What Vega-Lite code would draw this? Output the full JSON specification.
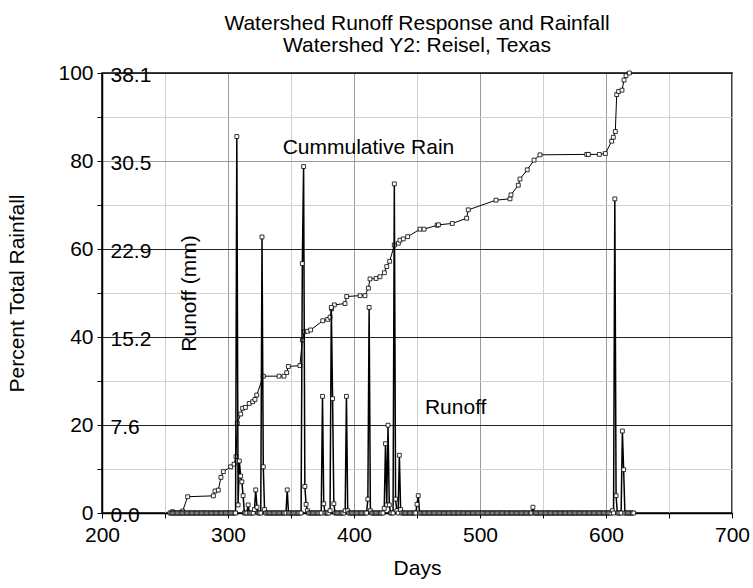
{
"$schema": "https://vega.github.io/schema/vega-lite/v6.json",
"width": 630, "height": 440,
"autosize": "none",
"padding": {"left": 102, "top": 73, "right": 21, "bottom": 75},
"background": "white",
"config": {"font": "Liberation Sans", "view": {"stroke": "black", "strokeWidth": 1.5}},
"title": {"text": ["Watershed Runoff Response and Rainfall", "Watershed Y2: Reisel, Texas"], "fontSize": 21, "fontWeight": "normal", "anchor": "middle", "frame": "group", "offset": 6, "lineHeight": 22, "color": "black"},
"datasets": {
"rain": [{"d":256,"p":0.3},{"d":264,"p":0.45},{"d":268,"p":3.7},{"d":288.4,"p":3.9},{"d":289.7,"p":5.0},{"d":292.3,"p":5.2},{"d":294.4,"p":8.1},{"d":296.3,"p":9.4},{"d":302.1,"p":10.5},{"d":304.8,"p":11.1},{"d":306.3,"p":12.8},{"d":307.4,"p":20.4},{"d":310.1,"p":22.5},{"d":311.6,"p":23.8},{"d":313.8,"p":24.0},{"d":316.9,"p":24.9},{"d":319.6,"p":25.3},{"d":321.4,"p":25.8},{"d":322.8,"p":26.8},{"d":328,"p":31.1},{"d":340.5,"p":31.1},{"d":344.4,"p":31.1},{"d":346.6,"p":31.9},{"d":347.9,"p":33.3},{"d":357.1,"p":33.5},{"d":359,"p":39.3},{"d":360.6,"p":41.2},{"d":363.2,"p":41.3},{"d":365.6,"p":41.6},{"d":375.2,"p":43.7},{"d":379.1,"p":44.0},{"d":381,"p":44.5},{"d":382.3,"p":46.4},{"d":384.4,"p":47.3},{"d":392.9,"p":47.6},{"d":394.2,"p":49.2},{"d":404.8,"p":49.4},{"d":408.7,"p":49.4},{"d":411.4,"p":51.1},{"d":412.7,"p":53.2},{"d":417.5,"p":53.3},{"d":420.6,"p":53.7},{"d":424.1,"p":54.6},{"d":426,"p":56.0},{"d":428.3,"p":57.2},{"d":432,"p":60.9},{"d":435.2,"p":61.3},{"d":436.5,"p":62.0},{"d":439.1,"p":62.3},{"d":442.6,"p":62.8},{"d":452.4,"p":64.5},{"d":455.6,"p":64.5},{"d":466,"p":65.4},{"d":467,"p":65.5},{"d":478,"p":65.8},{"d":489.4,"p":67.0},{"d":490.7,"p":68.9},{"d":512.7,"p":71.1},{"d":523.8,"p":71.4},{"d":524.6,"p":72.3},{"d":530.4,"p":74.5},{"d":531.7,"p":75.9},{"d":537.5,"p":78.0},{"d":542.9,"p":80.2},{"d":547.6,"p":81.4},{"d":584.7,"p":81.5},{"d":586,"p":81.5},{"d":594.7,"p":81.5},{"d":599.5,"p":81.7},{"d":604.5,"p":84.5},{"d":605.8,"p":85.4},{"d":607.4,"p":86.7},{"d":608.5,"p":95.1},{"d":610,"p":95.8},{"d":612.7,"p":96.1},{"d":614.3,"p":98.4},{"d":615.9,"p":99.4},{"d":618.5,"p":100}],
"labels": [{"t":"Cummulative Rain","d":343.4,"p":81.5},{"t":"Runoff","d":456.3,"p":22.4}],
"runoff": [
{"d":254,"r":0},{"d":255,"r":0},{"d":256,"r":0},{"d":257,"r":0},{"d":258,"r":0},{"d":259,"r":0},
{"d":260,"r":0},{"d":261,"r":0},{"d":262,"r":0},{"d":263,"r":0},{"d":264,"r":0},{"d":265,"r":0},{"d":266,"r":0},{"d":267,"r":0},{"d":268,"r":0},{"d":269,"r":0},
{"d":270,"r":0},{"d":271,"r":0},{"d":272,"r":0},{"d":273,"r":0},{"d":274,"r":0},{"d":275,"r":0},{"d":276,"r":0},{"d":277,"r":0},{"d":278,"r":0},{"d":279,"r":0},
{"d":280,"r":0},{"d":281,"r":0},{"d":282,"r":0},{"d":283,"r":0},{"d":284,"r":0},{"d":285,"r":0},{"d":286,"r":0},{"d":287,"r":0},{"d":288,"r":0},{"d":289,"r":0},
{"d":290,"r":0},{"d":291,"r":0},{"d":292,"r":0},{"d":293,"r":0},{"d":294,"r":0},{"d":295,"r":0},{"d":296,"r":0},{"d":297,"r":0},{"d":298,"r":0},{"d":299,"r":0},
{"d":300,"r":0},{"d":301,"r":0},{"d":302,"r":0},{"d":303,"r":0},{"d":304,"r":0},{"d":305,"r":0},{"d":306,"r":0},{"d":307,"r":32.6},{"d":308,"r":0.7},{"d":309,"r":4.5},
{"d":310,"r":3.2},{"d":311,"r":2.7},{"d":312,"r":1.5},{"d":313,"r":0},{"d":314,"r":0},{"d":315,"r":0},{"d":316,"r":0.7},{"d":317,"r":0},{"d":318,"r":0},{"d":319,"r":0},
{"d":320,"r":0},{"d":321,"r":0.3},{"d":322,"r":2.0},{"d":323,"r":0.5},{"d":324,"r":0},{"d":325,"r":0},{"d":326,"r":0},{"d":327,"r":23.9},{"d":328,"r":4.0},{"d":329,"r":0.3},
{"d":330,"r":0},{"d":331,"r":0},{"d":332,"r":0},{"d":333,"r":0},{"d":334,"r":0},{"d":335,"r":0},{"d":336,"r":0},{"d":337,"r":0},{"d":338,"r":0},{"d":339,"r":0},
{"d":340,"r":0},{"d":341,"r":0},{"d":342,"r":0},{"d":343,"r":0},{"d":344,"r":0},{"d":345,"r":0},{"d":346,"r":0},{"d":347,"r":2.0},{"d":348,"r":0},{"d":349,"r":0},
{"d":350,"r":0},{"d":351,"r":0},{"d":352,"r":0},{"d":353,"r":0},{"d":354,"r":0},{"d":355,"r":0},{"d":356,"r":0},{"d":357,"r":0},{"d":358,"r":0},{"d":359,"r":21.6},
{"d":360,"r":30.0},{"d":361,"r":2.3},{"d":362,"r":0.75},{"d":363,"r":0.2},{"d":364,"r":0},{"d":365,"r":0},{"d":366,"r":0},{"d":367,"r":0},{"d":368,"r":0},{"d":369,"r":0},
{"d":370,"r":0},{"d":371,"r":0},{"d":372,"r":0},{"d":373,"r":0},{"d":374,"r":0},{"d":375,"r":10.1},{"d":376,"r":0.8},{"d":377,"r":0},{"d":378,"r":0},{"d":379,"r":0},
{"d":380,"r":0},{"d":381,"r":0.2},{"d":382,"r":17.8},{"d":383,"r":9.9},{"d":384,"r":0.8},{"d":385,"r":0},{"d":386,"r":0},{"d":387,"r":0},{"d":388,"r":0},{"d":389,"r":0},
{"d":390,"r":0},{"d":391,"r":0},{"d":392,"r":0},{"d":393,"r":0.2},{"d":394,"r":10.1},{"d":395,"r":0.2},{"d":396,"r":0},{"d":397,"r":0},{"d":398,"r":0},{"d":399,"r":0},
{"d":400,"r":0},{"d":401,"r":0},{"d":402,"r":0},{"d":403,"r":0},{"d":404,"r":0},{"d":405,"r":0},{"d":406,"r":0},{"d":407,"r":0},{"d":408,"r":0},{"d":409,"r":0},
{"d":410,"r":0},{"d":411,"r":1.2},{"d":412,"r":17.8},{"d":413,"r":0.2},{"d":414,"r":0},{"d":415,"r":0},{"d":416,"r":0},{"d":417,"r":0},{"d":418,"r":0},{"d":419,"r":0},
{"d":420,"r":0},{"d":421,"r":0},{"d":422,"r":0},{"d":423,"r":0},{"d":424,"r":0.4},{"d":425,"r":6.0},{"d":426,"r":0.7},{"d":427,"r":7.6},{"d":428,"r":0.7},{"d":429,"r":0},
{"d":430,"r":0},{"d":431,"r":0},{"d":432,"r":28.5},{"d":433,"r":1.2},{"d":434,"r":0.2},{"d":435,"r":0},{"d":436,"r":5.0},{"d":437,"r":0.3},{"d":438,"r":0},{"d":439,"r":0},
{"d":440,"r":0},{"d":441,"r":0},{"d":442,"r":0},{"d":443,"r":0},{"d":444,"r":0},{"d":445,"r":0},{"d":446,"r":0},{"d":447,"r":0},{"d":448,"r":0},{"d":449,"r":0},
{"d":450,"r":0.75},{"d":451,"r":1.5},{"d":452,"r":0},{"d":453,"r":0},{"d":454,"r":0},{"d":455,"r":0},{"d":456,"r":0},{"d":457,"r":0},{"d":458,"r":0},{"d":459,"r":0},
{"d":460,"r":0},{"d":461,"r":0},{"d":462,"r":0},{"d":463,"r":0},{"d":464,"r":0},{"d":465,"r":0},{"d":466,"r":0},{"d":467,"r":0},{"d":468,"r":0},{"d":469,"r":0},
{"d":470,"r":0},{"d":471,"r":0},{"d":472,"r":0},{"d":473,"r":0},{"d":474,"r":0},{"d":475,"r":0},{"d":476,"r":0},{"d":477,"r":0},{"d":478,"r":0},{"d":479,"r":0},
{"d":480,"r":0},{"d":481,"r":0},{"d":482,"r":0},{"d":483,"r":0},{"d":484,"r":0},{"d":485,"r":0},{"d":486,"r":0},{"d":487,"r":0},{"d":488,"r":0},{"d":489,"r":0},
{"d":490,"r":0},{"d":491,"r":0},{"d":492,"r":0},{"d":493,"r":0},{"d":494,"r":0},{"d":495,"r":0},{"d":496,"r":0},{"d":497,"r":0},{"d":498,"r":0},{"d":499,"r":0},
{"d":500,"r":0},{"d":501,"r":0},{"d":502,"r":0},{"d":503,"r":0},{"d":504,"r":0},{"d":505,"r":0},{"d":506,"r":0},{"d":507,"r":0},{"d":508,"r":0},{"d":509,"r":0},
{"d":510,"r":0},{"d":511,"r":0},{"d":512,"r":0},{"d":513,"r":0},{"d":514,"r":0},{"d":515,"r":0},{"d":516,"r":0},{"d":517,"r":0},{"d":518,"r":0},{"d":519,"r":0},
{"d":520,"r":0},{"d":521,"r":0},{"d":522,"r":0},{"d":523,"r":0},{"d":524,"r":0},{"d":525,"r":0},{"d":526,"r":0},{"d":527,"r":0},{"d":528,"r":0},{"d":529,"r":0},
{"d":530,"r":0},{"d":531,"r":0},{"d":532,"r":0},{"d":533,"r":0},{"d":534,"r":0},{"d":535,"r":0},{"d":536,"r":0},{"d":537,"r":0},{"d":538,"r":0},{"d":539,"r":0},
{"d":540,"r":0},{"d":541,"r":0},{"d":542,"r":0.5},{"d":543,"r":0},{"d":544,"r":0},{"d":545,"r":0},{"d":546,"r":0},{"d":547,"r":0},{"d":548,"r":0},{"d":549,"r":0},
{"d":550,"r":0},{"d":551,"r":0},{"d":552,"r":0},{"d":553,"r":0},{"d":554,"r":0},{"d":555,"r":0},{"d":556,"r":0},{"d":557,"r":0},{"d":558,"r":0},{"d":559,"r":0},
{"d":560,"r":0},{"d":561,"r":0},{"d":562,"r":0},{"d":563,"r":0},{"d":564,"r":0},{"d":565,"r":0},{"d":566,"r":0},{"d":567,"r":0},{"d":568,"r":0},{"d":569,"r":0},
{"d":570,"r":0},{"d":571,"r":0},{"d":572,"r":0},{"d":573,"r":0},{"d":574,"r":0},{"d":575,"r":0},{"d":576,"r":0},{"d":577,"r":0},{"d":578,"r":0},{"d":579,"r":0},
{"d":580,"r":0},{"d":581,"r":0},{"d":582,"r":0},{"d":583,"r":0},{"d":584,"r":0},{"d":585,"r":0},{"d":586,"r":0},{"d":587,"r":0},{"d":588,"r":0},{"d":589,"r":0},
{"d":590,"r":0},{"d":591,"r":0},{"d":592,"r":0},{"d":593,"r":0},{"d":594,"r":0},{"d":595,"r":0},{"d":596,"r":0},{"d":597,"r":0},{"d":598,"r":0},{"d":599,"r":0},
{"d":600,"r":0},{"d":601,"r":0},{"d":602,"r":0},{"d":603,"r":0},{"d":604,"r":0},{"d":605,"r":0.2},{"d":606,"r":0},{"d":607,"r":27.2},{"d":608,"r":1.5},{"d":609,"r":0},
{"d":610,"r":0},{"d":611,"r":0},{"d":612,"r":0},{"d":613,"r":7.1},{"d":614,"r":3.75},{"d":615,"r":0},{"d":616,"r":0},{"d":617,"r":0},{"d":618,"r":0},{"d":619,"r":0},
{"d":620,"r":0},{"d":621,"r":0},{"d":622,"r":0}
]
},
"layer": [
{"layer": [
 {"data": {"name": "rain"},
  "mark": {"type": "line", "color": "black", "strokeWidth": 1},
  "encoding": {
   "x": {"field": "d", "type": "quantitative", "scale": {"domain": [200, 700], "nice": false, "zero": false},
    "axis": {"title": "Days", "values": [200,250,300,350,400,450,500,550,600,650,700], "labelExpr": "datum.value % 100 == 0 ? datum.label : ''", "format": "d", "grid": true, "gridColor": {"condition": {"test": "datum.value % 100 == 0", "value": "#9a9a9a"}, "value": "#d0d0d0"}, "gridOpacity": 1, "tickSize": 5, "tickColor": "black", "domainColor": "black", "domainWidth": 1.5, "labelFontSize": 21, "titleFontSize": 21, "titleFontWeight": "normal", "labelColor": "black", "titleColor": "black", "labelPadding": 6, "titlePadding": 12, "labelFlush": false, "labelOverlap": false}},
   "y": {"field": "p", "type": "quantitative", "scale": {"domain": [0, 100], "nice": false},
    "axis": {"title": "Percent Total Rainfall", "orient": "left", "values": [0,10,20,30,40,50,60,70,80,90,100], "labelExpr": "datum.value % 20 == 0 ? datum.label : ''", "format": "d", "grid": true, "gridColor": {"condition": [{"test": "datum.value == 80", "value": "#9a9a9a"}, {"test": "datum.value % 20 == 0", "value": "#222222"}], "value": "#d0d0d0"}, "gridOpacity": 1, "tickSize": 5, "tickColor": "black", "domainColor": "black", "domainWidth": 1.5, "labelFontSize": 21, "titleFontSize": 21, "titleFontWeight": "normal", "labelColor": "black", "titleColor": "black", "labelPadding": 4, "titlePadding": 30, "labelFlush": false, "labelOverlap": false}}
  }},
 {"data": {"name": "rain"},
  "mark": {"type": "point", "shape": "square", "size": 15, "filled": true, "fill": "white", "stroke": "black", "strokeWidth": 0.8, "opacity": 1},
  "encoding": {"x": {"field": "d", "type": "quantitative"}, "y": {"field": "p", "type": "quantitative"}}},
 {"data": {"name": "labels"},
  "mark": {"type": "text", "align": "left", "baseline": "alphabetic", "fontSize": 21, "color": "black"},
  "encoding": {"x": {"field": "d", "type": "quantitative"}, "y": {"field": "p", "type": "quantitative"}, "text": {"field": "t"}}}
]},
{"data": {"name": "runoff"},
 "layer": [
 {"mark": {"type": "line", "color": "black", "strokeWidth": 1.5},
  "encoding": {
   "x": {"field": "d", "type": "quantitative"},
   "y": {"field": "r", "type": "quantitative", "scale": {"domain": [0, 38.1], "nice": false},
    "axis": {"title": "Runoff (mm)", "orient": "left", "values": [0, 7.62, 15.24, 22.86, 30.48, 38.1], "format": ".1f", "grid": false, "domain": false, "ticks": false, "tickSize": 0, "labelAlign": "left", "labelPadding": -8, "labelBaseline": "middle", "labelOffset": 2, "labelFontSize": 21, "labelColor": "black", "titleFontSize": 21, "titleFontWeight": "normal", "titleColor": "black", "titleX": 87, "titleY": 220, "titleAngle": -90, "titleAlign": "center", "titleBaseline": "middle", "labelOverlap": false, "labelFlush": false, "zindex": 1}}
  }},
 {"mark": {"type": "point", "shape": "square", "size": 15, "filled": true, "fill": "white", "stroke": "black", "strokeWidth": 0.8, "opacity": 1},
  "encoding": {"x": {"field": "d", "type": "quantitative"}, "y": {"field": "r", "type": "quantitative"}}}
]}
],
"resolve": {"scale": {"y": "independent"}, "axis": {"y": "independent"}}
}
